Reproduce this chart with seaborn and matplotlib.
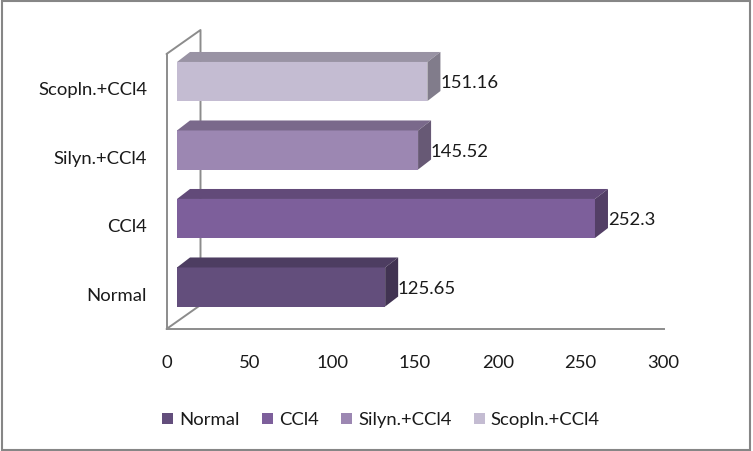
import matplotlib
matplotlib.use("Agg")
import matplotlib.pyplot as plt
import pandas as pd
import seaborn as sns
from matplotlib.lines import Line2D
from matplotlib.patches import Polygon, Rectangle

groups = ["Normal", "CCl4", "Silyn.+CCl4", "Scopln.+CCl4"]
values = [125.65, 252.3, 145.52, 151.16]
value_labels = ["125.65", "252.3", "145.52", "151.16"]
colors = ["#634E7C", "#7D5F9B", "#9C87B2", "#C4BCD2"]
x_ticks = [0, 50, 100, 150, 200, 250, 300]

W, H = 753, 451
FONT = 13.3
GRAY = "#8C8C8C"
DEPTH_X, DEPTH_Y = 13, 10


def axes_px(fig, left, top, right, bottom):
    return fig.add_axes([left / W, 1 - bottom / H, (right - left) / W, (bottom - top) / H])


def wall_line(fig, ax, xs, ys):
    ax.add_line(Line2D([x / W for x in xs], [1 - y / H for y in ys], color=GRAY, lw=1.4,
                       transform=fig.transFigure, clip_on=False))


def shade(color, f):
    r, g, b = matplotlib.colors.to_rgb(color)
    return (r * f, g * f, b * f)


sns.set_theme(style="white")
plt.rcParams["font.family"] = ["Lato", "DejaVu Sans"]

df = pd.DataFrame({"group": groups, "value": values})
fig = plt.figure(figsize=(W / 100, H / 100), dpi=100, facecolor="white")

# outer chart border
fig.add_artist(Rectangle((2 / W, 1 - 450 / H), 747.5 / W, 449 / H, transform=fig.transFigure,
                         fill=False, edgecolor="#868686", lw=1.5))

# front plane: holds the axis lines and the tick labels
frame = axes_px(fig, 166.5, 54, 663.5, 329)
frame.set_xlim(0, 300)
frame.set_ylim(-0.5, 3.5)
frame.set_xticks(x_ticks)
frame.set_yticks(range(len(groups)))
frame.set_yticklabels(groups)
frame.tick_params(axis="x", length=0, pad=19, labelsize=FONT, labelcolor="#1a1a1a")
frame.tick_params(axis="y", length=0, pad=14, labelsize=FONT, labelcolor="#1a1a1a")
sns.despine(ax=frame)
for side in ["left", "bottom"]:
    frame.spines[side].set_color(GRAY)
    frame.spines[side].set_linewidth(1.4)

# back wall, kept under the bars
wall_line(fig, frame, [166.5, 200.5, 200.5], [54, 30, 305])
wall_line(fig, frame, [166.5, 200.5], [329, 305])

# bars sit a little way into the depth of the chart
ax = axes_px(fig, 177, 47.25, 674, 321.25)
sns.barplot(data=df, x="value", y="group", hue="group", order=groups[::-1], hue_order=groups,
            palette=colors, dodge=False, width=0.57, legend=False, ax=ax,
            edgecolor="none", saturation=1)
ax.set_xlim(0, 300)
ax.patch.set_alpha(0)
ax.axis("off")

unit_x = 300 / (674 - 177)
unit_y = 4 / (321.25 - 47.25)
dx, dy = DEPTH_X * unit_x, DEPTH_Y * unit_y
for container, color, label in zip(ax.containers, colors, value_labels):
    for bar in container:
        x1 = bar.get_width()
        y0, y1 = bar.get_y(), bar.get_y() + bar.get_height()
        ax.add_patch(Polygon([(0, y0), (x1, y0), (x1 + dx, y0 - dy), (dx, y0 - dy)],
                             facecolor=shade(color, 0.78), edgecolor="none", clip_on=False))
        ax.add_patch(Polygon([(x1, y0), (x1 + dx, y0 - dy), (x1 + dx, y1 - dy), (x1, y1)],
                             facecolor=shade(color, 0.66), edgecolor="none", clip_on=False))
    texts = ax.bar_label(container, labels=[label], padding=9.2, fontsize=FONT, color="#1a1a1a", clip_on=False)
    for t in texts:
        t.xyann = (t.xyann[0], -1.2)

handles = [Rectangle((0, 0), 1, 1, facecolor=c, edgecolor="none") for c in colors]
fig.legend(handles, groups, loc="center", bbox_to_anchor=(381 / W, 1 - 420 / H), ncol=4,
           frameon=False, fontsize=FONT, handlelength=0.6, handleheight=0.6,
           handletextpad=0.33, columnspacing=1.2, labelcolor="#1a1a1a")

fig.savefig("out.png", dpi=100)
